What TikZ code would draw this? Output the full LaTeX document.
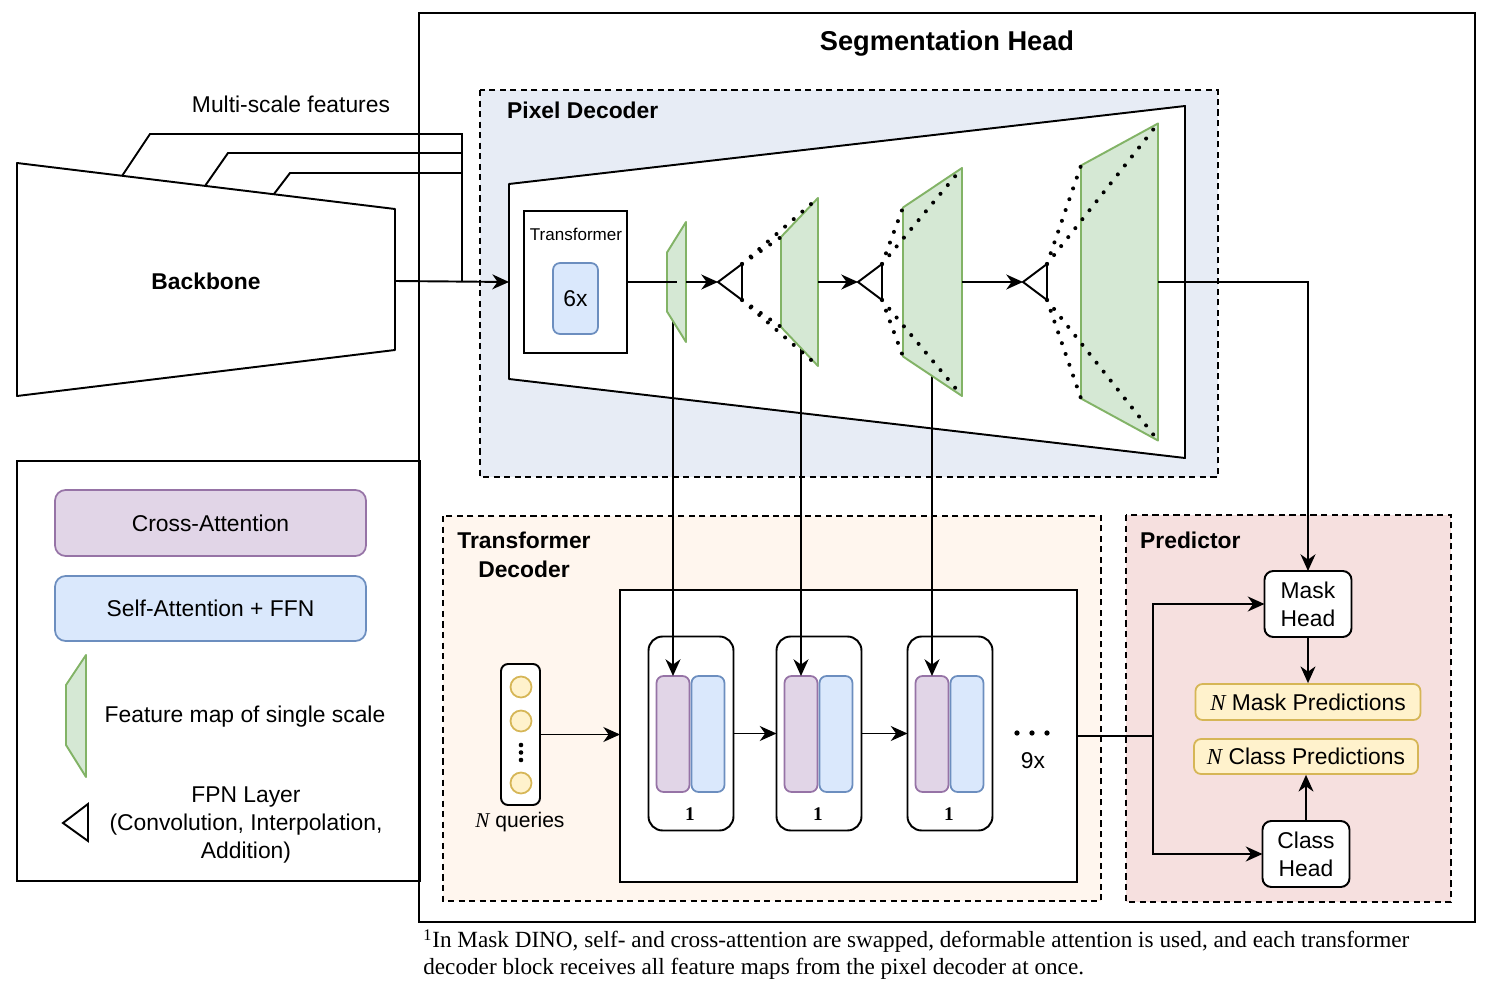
\documentclass[tikz,border=0pt]{standalone}
\usepackage{fontspec}
\setmainfont{Liberation Sans}
\newfontfamily\timesfont{Liberation Serif}
\usetikzlibrary{arrows.meta,positioning}

\definecolor{pixbg}{HTML}{E7ECF5}
\definecolor{tdbg}{HTML}{FFF6EE}
\definecolor{predbg}{HTML}{F6E0DF}
\definecolor{featfill}{HTML}{D5E8D4}
\definecolor{featline}{HTML}{82B366}
\definecolor{crossfill}{HTML}{E1D5E7}
\definecolor{crossline}{HTML}{9673A6}
\definecolor{selffill}{HTML}{DAE8FC}
\definecolor{selfline}{HTML}{6C8EBF}
\definecolor{qfill}{HTML}{FFF2CC}
\definecolor{qline}{HTML}{D6B656}

\begin{document}
\begin{tikzpicture}[x=0.02cm, y=-0.02cm,
  wire/.style={line width=1.1pt},
  arr/.style={wire, -{Stealth[length=9.5pt, width=8.5pt, inset=3pt]}},
  zone/.style={draw, line width=0.9pt, dash pattern=on 3.5pt off 2.5pt},
  feat/.style={draw=featline, fill=featfill, line width=1.1pt, line join=round},
  fpn/.style={draw, fill=white, line width=1.1pt},
  dotline/.style={line width=2.3pt, line cap=round, dash pattern=on 0pt off 6.5pt},
  heading/.style={font=\bfseries\fontsize{13}{16.5}\selectfont},
  txt/.style={font=\fontsize{13}{16}\selectfont},
  plainbox/.style={draw, wire, inner sep=0pt, outer sep=0pt},
  headbox/.style={plainbox, rounded corners=5pt, fill=white, minimum width=1.74cm, minimum height=1.32cm, align=center, txt},
  predbox/.style={draw=qline, fill=qfill, line width=1pt, rounded corners=4pt, inner sep=0pt, minimum height=0.72cm, txt},
  attn/.style={line width=1pt, rounded corners=4pt, inner sep=0pt, outer sep=0pt, minimum width=0.66cm, minimum height=2.32cm},
  crossatt/.style={attn, draw=crossline, fill=crossfill},
  selfatt/.style={attn, draw=selfline, fill=selffill},
]
  \useasboundingbox (0,0) rectangle (1489,983);

  % -------- segmentation head frame --------
  \node[plainbox, minimum width=21.12cm, minimum height=18.18cm, anchor=north west] (seghead) at (419,13) {};
  \node[font=\bfseries\fontsize{15.5}{18}\selectfont] (segtitle) at (947,44) {Segmentation Head};

  % -------- backbone --------
  \draw[wire, line join=round] (17,163) -- (395,209) -- (395,350) -- (17,396) -- cycle;
  \node[heading] (backbone) at (206,281) {Backbone};
  \coordinate (bbout) at (395,281);
  \node[txt] (mslabel) at (291,104) {Multi-scale features};
  \draw[wire] (122,176) -- (150,134) -- (462,134) -- (462,281);
  \draw[wire] (205,186) -- (228,153) -- (462,153);
  \draw[wire] (274,194) -- (290,173) -- (462,173);

  % -------- legend --------
  \node[plainbox, minimum width=8.06cm, minimum height=8.4cm, anchor=north west] (legend) at (17,461) {};
  \node[crossatt, rounded corners=6pt, minimum width=6.22cm, minimum height=1.32cm, txt] (lgcross) at (210.5,523) {Cross-Attention};
  \node[selfatt, rounded corners=6pt, minimum width=6.22cm, minimum height=1.3cm, txt] (lgself) at (210.5,608.5) {Self-Attention + FFN};
  \draw[feat] (66,685) -- (86,655) -- (86,777) -- (66,745) -- cycle;
  \node[txt] (lgfeat) at (245,717) {Feature map of single scale};
  \draw[fpn] (63,823) -- (88,804) -- (88,841) -- cycle;
  \node[txt, align=center] (lgfpn) at (246,825) {FPN Layer\\(Convolution, Interpolation,\\Addition)};

  % -------- pixel decoder --------
  \draw[zone, fill=pixbg] (480,90) rectangle (1218,477);
  \node[heading, anchor=west] (pdtitle) at (501,110) {Pixel Decoder};
  \draw[wire, fill=white, line join=round] (509,184) -- (1185,106) -- (1185,458) -- (509,379) -- cycle;
  \coordinate (pdin) at (509,282);
  \draw[arr] (bbout) -- (pdin);

  \node[plainbox, fill=white, minimum width=2.06cm, minimum height=2.84cm] (tfm) at (575.5,282) {};
  \node[font=\fontsize{9.7}{11}\selectfont] (tfmlabel) at (576,234) {Transformer};
  \node[draw=selfline, fill=selffill, line width=1pt, rounded corners=4pt, inner sep=0pt,
        minimum width=0.9cm, minimum height=1.42cm, txt] (six) at (575.5,298.5) {6x};

  % feature maps and fpn layers (corners only, drawn later)
  \foreach \i/\xl/\xr/\hl/\hr in {1/667/686/29.5/60, 2/781/818/45/84, 3/903/962/74.5/114, 4/1081/1158/116.5/158.5} {
    \coordinate (f\i-tl) at (\xl,282-\hl);
    \coordinate (f\i-tr) at (\xr,282-\hr);
    \coordinate (f\i-br) at (\xr,282+\hr);
    \coordinate (f\i-bl) at (\xl,282+\hl);
    \coordinate (f\i-in) at (\xl/2+\xr/2,282);
    \coordinate (f\i-out) at (\xr,282);
  }
  \foreach \i/\x in {1/718, 2/858, 3/1023} {
    \coordinate (t\i-in) at (\x,282);
    \coordinate (t\i-top) at (\x+24,264);
    \coordinate (t\i-bot) at (\x+24,300);
  }

  % -------- transformer decoder --------
  \draw[zone, fill=tdbg] (443,516) rectangle (1101,901);
  \node[heading, align=center] (tdtitle) at (524,555) {Transformer\\Decoder};
  \node[plainbox, fill=white, minimum width=9.14cm, minimum height=5.84cm] (tdbox) at (848.5,736) {};

  \node[plainbox, rounded corners=4pt, fill=white, minimum width=0.78cm, minimum height=2.82cm] (qbox) at (520.5,734.5) {};
  \foreach \i/\y in {1/687, 2/721, 3/783}
    \node[circle, draw=qline, fill=qfill, line width=1pt, minimum size=0.42cm, inner sep=0pt] (q\i) at (521,\y) {};
  \foreach \y in {745,752.5,760}
    \fill (521,\y) circle (1.3pt);
  \node[font=\fontsize{12}{14}\selectfont] (qlabel) at (520,822) {{\timesfont\itshape N} queries};
  \draw[arr] (qbox.east) -- (qbox.east -| tdbox.west);

  \foreach \i/\x in {1/691, 2/819, 3/950} {
    \node[plainbox, rounded corners=8pt, fill=white, minimum width=1.7cm, minimum height=3.88cm] (blk\i) at (\x,733.5) {};
    \node[crossatt] (ca\i) at (\x-18,734) {};
    \node[selfatt] (sa\i) at (\x+17,734) {};
    \node[font=\timesfont\bfseries\fontsize{11}{13}\selectfont] (n\i) at (\x-1,814) {1};
  }
  \draw[arr] (blk1) -- (blk2);
  \draw[arr] (blk2) -- (blk3);
  \foreach \x in {1017,1032,1047}
    \fill (\x,733) circle (1.5pt);
  \node[txt] (nine) at (1033,761) {9x};

  % -------- predictor --------
  \draw[zone, fill=predbg] (1126,515) rectangle (1451,902);
  \node[heading, anchor=west] (predtitle) at (1134,540) {Predictor};
  \node[headbox] (maskhead) at (1308,604) {Mask\\Head};
  \node[predbox, minimum width=4.5cm] (maskpred) at (1308,702) {{\timesfont\itshape N} Mask Predictions};
  \node[predbox, minimum width=4.48cm, minimum height=0.7cm] (classpred) at (1306,756.5) {{\timesfont\itshape N} Class Predictions};
  \node[headbox] (classhead) at (1306,854) {Class\\Head};

  \coordinate (split) at (1153,736);
  \draw[wire] (tdbox.east |- split) -- (split);
  \draw[arr] (split) |- (maskhead);
  \draw[arr] (split) |- (classhead);
  \draw[arr] (maskhead) -- (maskpred);
  \draw[arr] (classhead.north) -- (classhead.north |- classpred.south);

  % -------- feature maps into the decoder blocks --------
  \foreach \i in {1,2,3}
    \draw[arr] (ca\i.north |- f\i-in) -- (ca\i.north);
  \foreach \i in {1,...,4}
    \draw[feat] (f\i-tl) -- (f\i-tr) -- (f\i-br) -- (f\i-bl) -- cycle;

  \draw[wire] (tfm.east) -- (f1-in);
  \draw[arr] (f1-out) -- (t1-in);
  \draw[arr] (f2-out) -- (t2-in);
  \draw[arr] (f3-out) -- (t3-in);
  \draw[arr] (f4-out) -| (maskhead);

  \foreach \i in {1,2,3}
    \draw[fpn] (t\i-in) -- (t\i-top) -- (t\i-bot) -- cycle;
  \foreach \i/\j in {1/2, 2/3, 3/4} {
    \draw[dotline] (t\i-top) -- (f\j-tl);
    \draw[dotline] (t\i-top) -- (f\j-tr);
    \draw[dotline] (t\i-bot) -- (f\j-bl);
    \draw[dotline] (t\i-bot) -- (f\j-br);
  }

  % -------- footnote --------
  \node[anchor=north west, align=left, inner sep=0pt, font=\timesfont\fontsize{13.2}{15.4}\selectfont] (note) at (423,929)
    {\textsuperscript{1}In Mask DINO, self- and cross-attention are swapped, deformable attention is used, and each transformer\\
     decoder block receives all feature maps from the pixel decoder at once.};
\end{tikzpicture}
\end{document}
